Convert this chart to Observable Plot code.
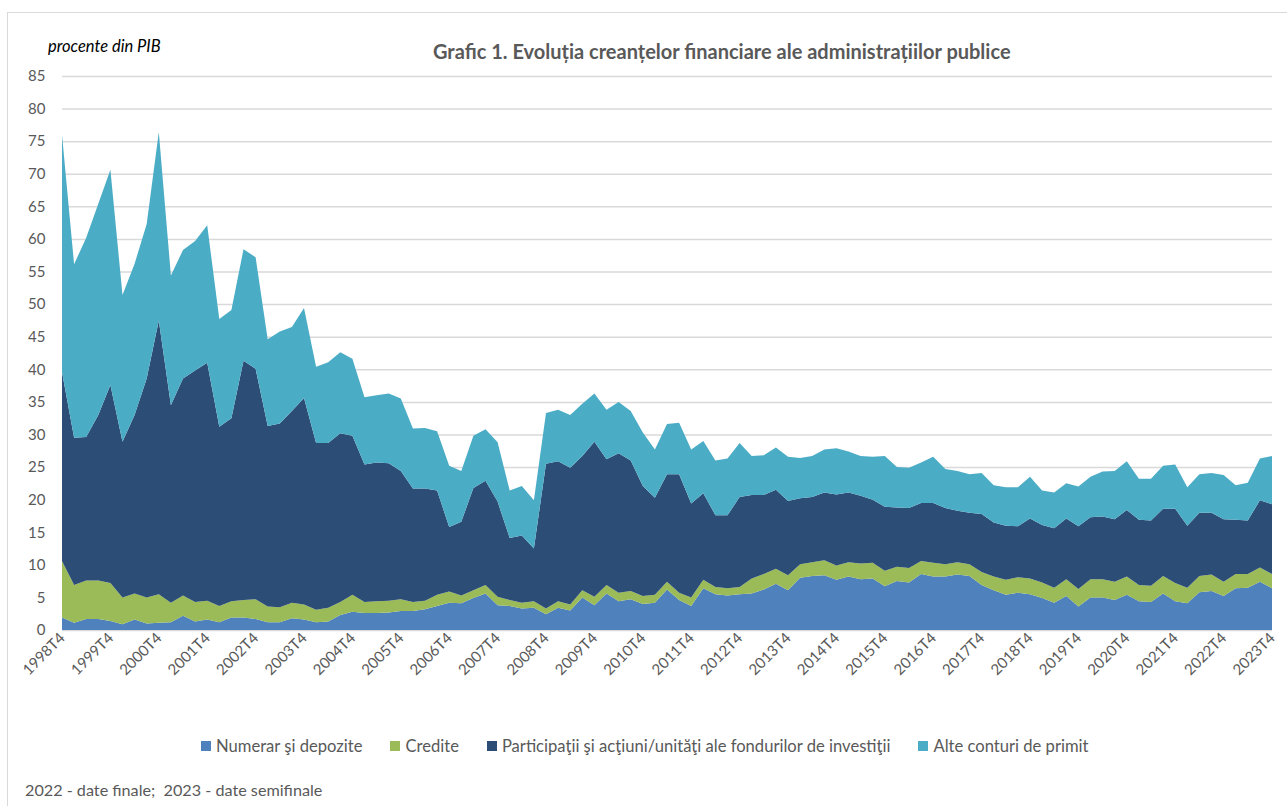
<!DOCTYPE html>
<html><head><meta charset="utf-8">
<script src="https://cdn.jsdelivr.net/npm/d3@7"></script>
<script src="https://cdn.jsdelivr.net/npm/@observablehq/plot@0.6"></script>
<style>
body{margin:0;background:#fff;font-family:Lato,"Open Sans",sans-serif;}
#wrap{position:relative;width:1287px;height:806px;overflow:hidden;}
#frame{position:absolute;left:7px;top:12px;width:1400px;height:900px;border:1px solid #d9d9d9;box-sizing:border-box;}
#chart{position:absolute;left:0;top:0;}
#title{position:absolute;left:433px;top:39px;font-size:20px;font-weight:bold;color:#595959;white-space:nowrap;}
#unit{position:absolute;left:48px;top:36px;font-size:16.5px;font-style:italic;color:#000;white-space:nowrap;}
#legend{position:absolute;left:201px;top:736px;display:flex;font-size:16.6px;color:#595959;white-space:nowrap;}
#legend .it{display:flex;align-items:center;margin-right:28px;}
#legend .sw{width:10px;height:10px;margin-right:5px;display:inline-block;}
#note{position:absolute;left:25px;top:780px;font-size:16.2px;color:#595959;white-space:nowrap;}
</style></head><body><div id="wrap">
<div id="frame"></div>
<div id="chart"></div>
<div id="unit">procente din PIB</div>
<div id="title">Grafic 1. Evoluția creanțelor financiare ale administrațiilor publice</div>
<div id="legend"></div>
<div id="note">2022 - date finale;&nbsp; 2023 - date semifinale</div>
</div>
<script>
// quarter categories 1998T4 ... 2023T4
const quarters = [];
for (let y = 1998; y <= 2023; y++) for (let q = 1; q <= 4; q++) { if (y === 1998 && q < 4) continue; quarters.push(y + "T" + q); }

const seriesNames = ["Numerar şi depozite", "Credite", "Participaţii şi acţiuni/unităţi ale fondurilor de investiţii", "Alte conturi de primit"];
const colors = ["#4f81bd", "#9bbb59", "#2c4d75", "#4bacc6"];
const yTicks = [0,5,10,15,20,25,30,35,40,45,50,55,60,65,70,75,80,85];
const xTickLabels = ["1998T4","1999T4","2000T4","2001T4","2002T4","2003T4","2004T4","2005T4","2006T4","2007T4","2008T4","2009T4","2010T4","2011T4","2012T4","2013T4","2014T4","2015T4","2016T4","2017T4","2018T4","2019T4","2020T4","2021T4","2022T4","2023T4"];

const numerar = [1.9,1.1,1.7,1.7,1.4,0.9,1.6,1.0,1.1,1.2,2.2,1.3,1.6,1.2,1.9,1.9,1.7,1.2,1.2,1.8,1.6,1.2,1.3,2.3,2.8,2.6,2.6,2.7,2.9,2.9,3.2,3.7,4.2,4.1,4.9,5.6,3.8,3.7,3.3,3.4,2.4,3.4,3.0,5.0,3.8,5.6,4.4,4.7,4.0,4.2,6.2,4.6,3.7,6.4,5.5,5.3,5.5,5.6,6.2,7.1,6.1,8.0,8.3,8.4,7.7,8.2,7.8,7.9,6.7,7.5,7.3,8.6,8.2,8.2,8.5,8.3,6.9,6.1,5.4,5.7,5.5,4.9,4.2,5.2,3.6,5.0,5.0,4.6,5.4,4.4,4.3,5.6,4.4,4.1,5.8,6.0,5.2,6.4,6.5,7.4,6.4];
const credite = [8.7,5.8,5.9,5.9,5.8,4.1,4.0,4.0,4.4,3.0,3.1,3.0,2.9,2.5,2.5,2.7,3.0,2.4,2.3,2.4,2.3,1.9,2.1,2.0,2.6,1.7,1.8,1.8,1.8,1.4,1.3,1.7,1.7,1.2,1.2,1.3,1.3,0.9,0.9,1.0,0.9,1.0,0.9,1.1,1.3,1.3,1.3,1.3,1.2,1.2,1.2,1.1,1.3,1.3,1.1,1.1,1.1,2.3,2.4,2.3,2.3,2.1,2.1,2.3,2.2,2.2,2.4,2.4,2.4,2.2,2.2,2.0,2.1,1.9,1.9,1.8,2.0,2.1,2.3,2.4,2.4,2.4,2.3,2.6,2.7,2.8,2.8,2.8,2.8,2.5,2.5,2.7,2.8,2.4,2.5,2.5,2.2,2.2,2.1,2.2,2.2];
const participatii = [29.0,22.6,22.0,25.4,30.4,23.9,27.4,33.6,42.0,30.3,33.3,35.5,36.5,27.5,28.1,36.7,35.4,27.7,28.2,29.4,31.7,25.6,25.3,25.9,24.4,21.1,21.3,21.1,19.7,17.4,17.2,16.0,9.9,11.3,15.7,16.0,14.6,9.5,10.3,8.1,22.2,21.5,21.0,20.6,23.8,19.3,21.4,20.0,16.9,14.9,16.5,18.2,14.4,13.3,11.0,11.2,13.8,12.8,12.1,12.1,11.4,10.1,10.0,10.4,10.9,10.7,10.4,9.7,9.8,9.1,9.2,8.9,9.2,8.6,7.9,7.9,8.9,8.3,8.3,7.8,9.2,8.8,9.1,9.3,9.6,9.5,9.6,9.6,10.2,10.0,10.0,10.3,11.4,9.5,9.7,9.5,9.6,8.3,8.2,10.3,10.7];
const alte = [36.4,26.6,30.6,32.4,33.0,22.5,23.2,23.7,28.9,19.9,19.7,19.9,21.1,16.5,16.6,17.1,17.1,13.3,14.1,12.9,13.8,11.7,12.4,12.4,11.8,10.3,10.3,10.7,11.1,9.2,9.3,9.1,9.4,7.8,8.0,7.9,9.1,7.3,7.6,7.4,7.8,7.9,8.1,8.0,7.4,7.6,7.9,7.6,8.2,7.4,7.7,7.9,8.3,8.0,8.4,8.7,8.3,6.0,6.1,6.5,6.8,6.2,6.3,6.6,7.1,6.3,6.1,6.6,7.8,6.2,6.2,6.2,7.1,6.0,6.1,5.9,6.3,5.7,5.9,6.0,6.4,5.3,5.5,5.4,6.1,6.2,6.9,7.4,7.5,6.3,6.4,6.6,6.8,5.9,5.9,6.1,6.8,5.3,5.8,6.4,7.4];

const data = [];
[numerar, credite, participatii, alte].forEach((arr, k) =>
  arr.forEach((v, i) => data.push({i, q: quarters[i], s: seriesNames[k], v})));

const tickIdx = xTickLabels.map(l => quarters.indexOf(l));

const chart = Plot.plot({
  width: 1287, height: 700,
  marginLeft: 62, marginRight: 15, marginTop: 76, marginBottom: 70,
  style: {fontFamily: "Lato, 'Open Sans', sans-serif", color: "#595959", background: "transparent", overflow: "visible"},
  x: {type: "linear", domain: [0, quarters.length - 1]},
  y: {domain: [0, 85]},
  color: {domain: seriesNames, range: colors},
  marks: [
    Plot.ruleY(yTicks, {stroke: "#d9d9d9", strokeWidth: 1.5}),
    Plot.areaY(data, {x: "i", y: "v", z: "s", fill: "s", order: seriesNames, curve: "linear"}),
    Plot.axisY({ticks: yTicks, tickSize: 0, tickPadding: 17, fontSize: 15, label: null}),
    Plot.axisX({ticks: tickIdx, tickFormat: i => quarters[i], tickSize: 0, tickPadding: 5, tickRotate: -45, fontSize: 15, label: null})
  ]
});
document.getElementById("chart").appendChild(chart);

const lg = document.getElementById("legend");
seriesNames.forEach((n, k) => {
  const it = document.createElement("div"); it.className = "it";
  const sw = document.createElement("span"); sw.className = "sw"; sw.style.background = colors[k];
  const tx = document.createElement("span"); tx.textContent = n;
  it.appendChild(sw); it.appendChild(tx); lg.appendChild(it);
});
</script>
</body></html>
